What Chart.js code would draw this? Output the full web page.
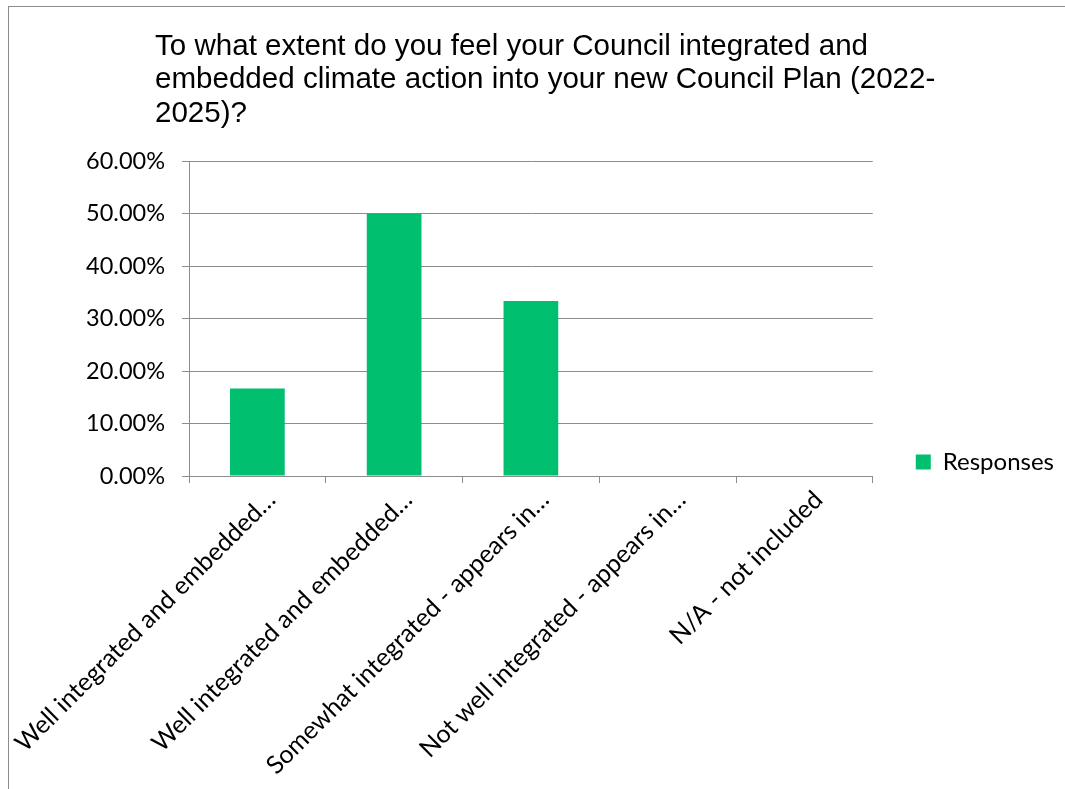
<!DOCTYPE html>
<html>
<head>
<meta charset="utf-8">
<script src="https://cdn.jsdelivr.net/npm/chart.js@4.4.1/dist/chart.umd.min.js"></script>
<style>
  html, body { margin: 0; padding: 0; background: #fff; overflow: hidden; }
  #frame { position: absolute; left: 8px; top: 6px; width: 1200px; height: 900px;
           border: 1px solid #8c8c8c; box-sizing: border-box; }
  #wrap { position: absolute; left: 0; top: 0; width: 1065px; height: 789px; }
</style>
</head>
<body>
<div id="frame"></div>
<div id="wrap"><canvas id="chart" width="1065" height="789"></canvas></div>
<script>
// Survey question and answers
const titleLines = [
  'To what extent do you feel your Council integrated and',
  'embedded climate action into your new Council Plan (2022-',
  '2025)?'
];
const categories = [
  'Well integrated and embedded…',
  'Well integrated and embedded…',
  'Somewhat integrated - appears in…',
  'Not well integrated - appears in…',
  'N/A - not included'
];
const responses = [0.1667, 0.50, 0.3333, 0, 0];
const seriesName = 'Responses';
const yTicks = { min: 0, max: 0.6, step: 0.1 };

const GRID = '#8c8c8c';
const GREEN = '#00BF6F';
const FAMILY = 'Lato, "Open Sans", sans-serif';

// Left-aligned multi-line heading drawn on the canvas
const headingPlugin = {
  id: 'heading',
  afterDraw(chart) {
    const ctx = chart.ctx;
    ctx.save();
    ctx.font = '29px "Liberation Sans", Arial, sans-serif';
    ctx.fillStyle = '#000';
    ctx.textBaseline = 'alphabetic';
    ctx.textAlign = 'left';
    const natural = ctx.measureText(titleLines[0]).width;
    const sx = 713 / natural;
    const x0 = 155, base = 54.5, lead = 33.5;
    titleLines.forEach((line, i) => {
      ctx.save();
      ctx.translate(x0, base + i * lead);
      ctx.scale(sx, 1);
      ctx.fillText(line, 0, 0);
      ctx.restore();
    });
    ctx.restore();
  }
};

// Lift the side legend so it sits just above the baseline of the plot
const legendLift = {
  id: 'legendLift',
  afterLayout(chart) {
    const lg = chart.legend;
    if (lg) { lg.top -= 13; lg.bottom -= 13; }
  }
};

new Chart(document.getElementById('chart'), {
  type: 'bar',
  data: {
    labels: categories,
    datasets: [{
      label: seriesName,
      data: responses,
      backgroundColor: GREEN,
      borderWidth: 0,
      barPercentage: 0.4,
      categoryPercentage: 1.0
    }]
  },
  options: {
    responsive: false,
    animation: false,
    devicePixelRatio: 1,
    layout: { padding: { top: 161, right: 1, bottom: 0, left: 0 } },
    plugins: {
      title: { display: false },
      tooltip: { enabled: false },
      legend: {
        display: true,
        position: 'right',
        align: 'center',
        labels: {
          boxWidth: 15,
          boxHeight: 15,
          padding: 43,
          color: '#000',
          font: { family: FAMILY, size: 24 }
        }
      }
    },
    scales: {
      x: {
        offset: true,
        grid: {
          display: true,
          drawOnChartArea: false,
          drawTicks: true,
          tickLength: 7,
          color: GRID,
          offset: true
        },
        border: { display: true, color: GRID, width: 1 },
        ticks: {
          autoSkip: false,
          minRotation: 45,
          maxRotation: 45,
          color: '#000',
          font: { family: FAMILY, size: 25 },
          padding: 2,
          labelOffset: 14
        },
        afterFit(scale) {
          scale.height = 313;
          scale.paddingLeft = 0;
          scale.paddingRight = 0;
        }
      },
      y: {
        min: yTicks.min,
        max: yTicks.max,
        grid: {
          color: GRID,
          lineWidth: 1,
          drawTicks: true,
          tickLength: 7
        },
        border: { display: true, color: GRID, width: 1 },
        ticks: {
          stepSize: yTicks.step,
          color: '#000',
          font: { family: FAMILY, size: 23.5 },
          padding: 17,
          callback: v => (v * 100).toFixed(2) + '%'
        },
        afterFit(scale) { scale.width = 189; }
      }
    }
  },
  plugins: [headingPlugin, legendLift]
});
</script>
</body>
</html>
